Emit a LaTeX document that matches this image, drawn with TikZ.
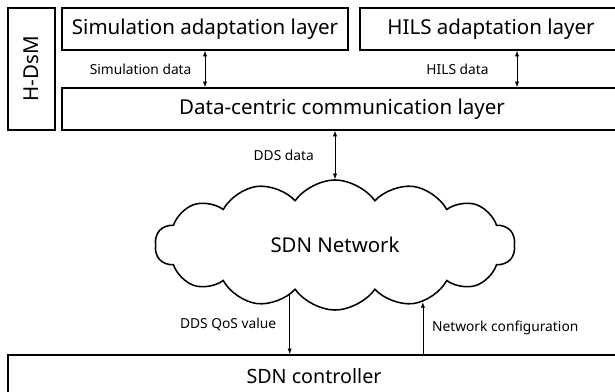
\documentclass[tikz,border=0pt]{standalone}
\usepackage{fontspec}
\setmainfont{Noto Sans}
\usetikzlibrary{positioning,calc,arrows.meta,shapes.symbols}

\begin{document}
\begin{tikzpicture}[x=0.025cm,y=-0.025cm,
  layer/.style={draw,line width=1.1pt,minimum height=1.05cm,inner sep=0pt,
                font=\fontsize{14.6}{17}\selectfont},
  lbl/.style={font=\fontsize{9.8}{12}\selectfont,inner sep=0pt},
  rel/.style={line width=0.5pt,-{Latex[length=4pt,width=3pt]}},
  birel/.style={line width=0.5pt,{Latex[length=4pt,width=3pt]}-{Latex[length=4pt,width=3pt]}}]
  \clip (0,0) rectangle (615,392);
  \node[layer,rotate=90,minimum width=3.05cm,minimum height=1.175cm] (hdsm) at (31.5,69) {H-DsM};
  \node[layer,minimum width=7.15cm]  (sim)  at (205,29) {Simulation adaptation layer};
  \node[layer,minimum width=6.55cm]  (hils) at (491,29) {HILS adaptation layer};
  \node[layer,minimum width=14cm]    (dcl)  at (342,109) {Data-centric communication layer};
  \node[cloud,draw,line width=1.1pt,cloud puffs=14,cloud puff arc=110,aspect=2.8,
        minimum width=9cm,minimum height=3.25cm,font=\fontsize{14.5}{17}\selectfont] (net) at (335,245) {SDN Network};
  \node[layer,minimum width=15.3cm,minimum height=1.05cm,font=\fontsize{14}{17}\selectfont] (ctrl) at (314,376) {SDN controller};
  % data paths
  \draw[birel] (sim.south) -- node[lbl,left=0.33cm] {Simulation data} (sim.south |- dcl.north);
  \draw[birel] ($(hils.south)+(26,0)$) coordinate (hilsb) -- node[lbl,left=0.7cm] {HILS data} (hilsb |- dcl.north);
  \draw[birel] (net.north |- dcl.south) -- node[lbl,left=0.52cm] {DDS data} (net.north);
  \draw[rel] (net.228) -- node[lbl,left=0.33cm] {DDS QoS value} (net.228 |- ctrl.north);
  \draw[rel] (net.327 |- ctrl.north) -- node[lbl,right=0.22cm] {Network configuration} (net.327);
\end{tikzpicture}
\end{document}
